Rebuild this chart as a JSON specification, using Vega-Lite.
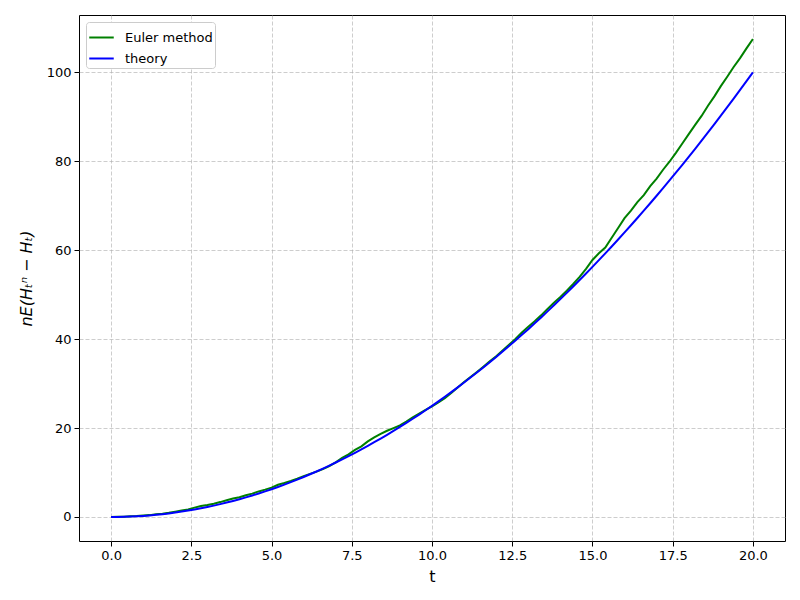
{
  "$schema": "https://vega.github.io/schema/vega-lite/v6.json",
  "autosize": "none",
  "width": 706,
  "height": 526,
  "padding": {"left": 79, "top": 15, "right": 15, "bottom": 59},
  "background": "white",
  "config": {
    "view": {"stroke": "black", "strokeWidth": 1},
    "font": "DejaVu Sans",
    "axis": {
      "labelFont": "DejaVu Sans", "labelFontSize": 13, "labelColor": "black",
      "titleFont": "DejaVu Sans", "titleFontSize": 16, "titleFontWeight": "normal", "titleColor": "black",
      "tickColor": "black", "tickSize": 5, "tickWidth": 1, "domain": false,
      "grid": true, "gridColor": "#b0b0b0", "gridOpacity": 0.7, "gridDash": [4, 2], "gridWidth": 0.9,
      "labelPadding": 3
    }
  },
  "datasets": {
    "rows": [
      {"t":0,"Euler":0,"theory":0},{"t":0.2,"Euler":0.03,"theory":0.01},{"t":0.4,"Euler":0.07,"theory":0.04},{"t":0.6,"Euler":0.15,"theory":0.09},{"t":0.8,"Euler":0.2,"theory":0.16},
      {"t":1.0,"Euler":0.33,"theory":0.25},{"t":1.2,"Euler":0.42,"theory":0.36},{"t":1.4,"Euler":0.6,"theory":0.49},{"t":1.6,"Euler":0.75,"theory":0.64},{"t":1.8,"Euler":0.95,"theory":0.81},
      {"t":2.0,"Euler":1.2,"theory":1.0},{"t":2.2,"Euler":1.45,"theory":1.21},{"t":2.4,"Euler":1.7,"theory":1.44},{"t":2.6,"Euler":2.1,"theory":1.69},{"t":2.8,"Euler":2.45,"theory":1.96},
      {"t":3.0,"Euler":2.7,"theory":2.25},{"t":3.2,"Euler":3.0,"theory":2.56},{"t":3.4,"Euler":3.35,"theory":2.89},{"t":3.6,"Euler":3.75,"theory":3.24},{"t":3.8,"Euler":4.15,"theory":3.61},
      {"t":4.0,"Euler":4.45,"theory":4.0},{"t":4.2,"Euler":4.9,"theory":4.41},{"t":4.4,"Euler":5.25,"theory":4.84},{"t":4.6,"Euler":5.75,"theory":5.29},{"t":4.8,"Euler":6.15,"theory":5.76},
      {"t":5.0,"Euler":6.6,"theory":6.25},{"t":5.2,"Euler":7.25,"theory":6.76},{"t":5.4,"Euler":7.65,"theory":7.29},{"t":5.6,"Euler":8.1,"theory":7.84},{"t":5.8,"Euler":8.6,"theory":8.41},
      {"t":6.0,"Euler":9.2,"theory":9.0},{"t":6.2,"Euler":9.7,"theory":9.61},{"t":6.4,"Euler":10.2,"theory":10.24},{"t":6.6,"Euler":10.75,"theory":10.89},{"t":6.8,"Euler":11.45,"theory":11.56},
      {"t":7.0,"Euler":12.3,"theory":12.25},{"t":7.2,"Euler":13.3,"theory":12.96},{"t":7.4,"Euler":14.1,"theory":13.69},{"t":7.6,"Euler":15.1,"theory":14.44},{"t":7.8,"Euler":15.9,"theory":15.21},
      {"t":8.0,"Euler":17.0,"theory":16.0},{"t":8.2,"Euler":17.9,"theory":16.81},{"t":8.4,"Euler":18.7,"theory":17.64},{"t":8.6,"Euler":19.4,"theory":18.49},{"t":8.8,"Euler":20.0,"theory":19.36},
      {"t":9.0,"Euler":20.6,"theory":20.25},{"t":9.2,"Euler":21.45,"theory":21.16},{"t":9.4,"Euler":22.4,"theory":22.09},{"t":9.6,"Euler":23.25,"theory":23.04},{"t":9.8,"Euler":24.1,"theory":24.01},
      {"t":10.0,"Euler":24.9,"theory":25.0},{"t":10.2,"Euler":25.75,"theory":26.01},{"t":10.4,"Euler":26.7,"theory":27.04},{"t":10.6,"Euler":27.9,"theory":28.09},{"t":10.8,"Euler":29.1,"theory":29.16},
      {"t":11.0,"Euler":30.35,"theory":30.25},{"t":11.2,"Euler":31.5,"theory":31.36},{"t":11.4,"Euler":32.6,"theory":32.49},{"t":11.6,"Euler":33.8,"theory":33.64},{"t":11.8,"Euler":35.0,"theory":34.81},
      {"t":12.0,"Euler":36.15,"theory":36.0},{"t":12.2,"Euler":37.45,"theory":37.21},{"t":12.4,"Euler":38.75,"theory":38.44},{"t":12.6,"Euler":40.05,"theory":39.69},{"t":12.8,"Euler":41.5,"theory":40.96},
      {"t":13.0,"Euler":42.8,"theory":42.25},{"t":13.2,"Euler":44.0,"theory":43.56},{"t":13.4,"Euler":45.35,"theory":44.89},{"t":13.6,"Euler":46.8,"theory":46.24},{"t":13.8,"Euler":48.2,"theory":47.61},
      {"t":14.0,"Euler":49.5,"theory":49.0},{"t":14.2,"Euler":50.9,"theory":50.41},{"t":14.4,"Euler":52.4,"theory":51.84},{"t":14.6,"Euler":54.0,"theory":53.29},{"t":14.8,"Euler":55.8,"theory":54.76},
      {"t":15.0,"Euler":57.8,"theory":56.25},{"t":15.2,"Euler":59.3,"theory":57.76},{"t":15.4,"Euler":60.6,"theory":59.29},{"t":15.6,"Euler":62.8,"theory":60.84},{"t":15.8,"Euler":65.0,"theory":62.41},
      {"t":16.0,"Euler":67.2,"theory":64.0},{"t":16.2,"Euler":68.9,"theory":65.61},{"t":16.4,"Euler":70.8,"theory":67.24},{"t":16.6,"Euler":72.4,"theory":68.89},{"t":16.8,"Euler":74.4,"theory":70.56},
      {"t":17.0,"Euler":76.1,"theory":72.25},{"t":17.2,"Euler":78.1,"theory":73.96},{"t":17.4,"Euler":79.9,"theory":75.69},{"t":17.6,"Euler":81.9,"theory":77.44},{"t":17.8,"Euler":84.0,"theory":79.21},
      {"t":18.0,"Euler":86.1,"theory":81.0},{"t":18.2,"Euler":88.2,"theory":82.81},{"t":18.4,"Euler":90.2,"theory":84.64},{"t":18.6,"Euler":92.5,"theory":86.49},{"t":18.8,"Euler":94.6,"theory":88.36},
      {"t":19.0,"Euler":96.9,"theory":90.25},{"t":19.2,"Euler":99.0,"theory":92.16},{"t":19.4,"Euler":101.2,"theory":94.09},{"t":19.6,"Euler":103.2,"theory":96.04},{"t":19.8,"Euler":105.4,"theory":98.01},
      {"t":20.0,"Euler":107.5,"theory":100.0}
    ]
  },
  "data": {"name": "rows"},
  "transform": [
    {"fold": ["Euler", "theory"], "as": ["key", "value"]},
    {"calculate": "datum.key === 'Euler' ? 'Euler method' : 'theory'", "as": "series"}
  ],
  "mark": {"type": "line", "strokeWidth": 2, "clip": true},
  "encoding": {
    "x": {
      "field": "t", "type": "quantitative",
      "scale": {"domain": [-1, 21], "nice": false, "zero": false},
      "axis": {"values": [0, 2.5, 5, 7.5, 10, 12.5, 15, 17.5, 20], "format": ".1f", "title": "t", "titlePadding": 6}
    },
    "y": {
      "field": "value", "type": "quantitative",
      "scale": {"domain": [-5.4, 112.9], "nice": false, "zero": false},
      "axis": {"values": [0, 20, 40, 60, 80, 100], "format": "d", "title": "nE(Hₜⁿ − Hₜ)", "titleFontStyle": "italic", "titlePadding": 12}
    },
    "color": {
      "field": "series", "type": "nominal",
      "scale": {"domain": ["Euler method", "theory"], "range": ["#008000", "#0000ff"]},
      "legend": {
        "title": null, "orient": "top-left", "offset": 7,
        "symbolType": "stroke", "symbolStrokeWidth": 2, "symbolSize": 600,
        "labelFontSize": 13, "labelFont": "DejaVu Sans", "labelColor": "black",
        "strokeColor": "#cccccc", "fillColor": "white", "cornerRadius": 3,
        "padding": 2, "rowPadding": 0, "labelOffset": 10
      }
    },
    "order": {"field": "t", "type": "quantitative"}
  }
}
